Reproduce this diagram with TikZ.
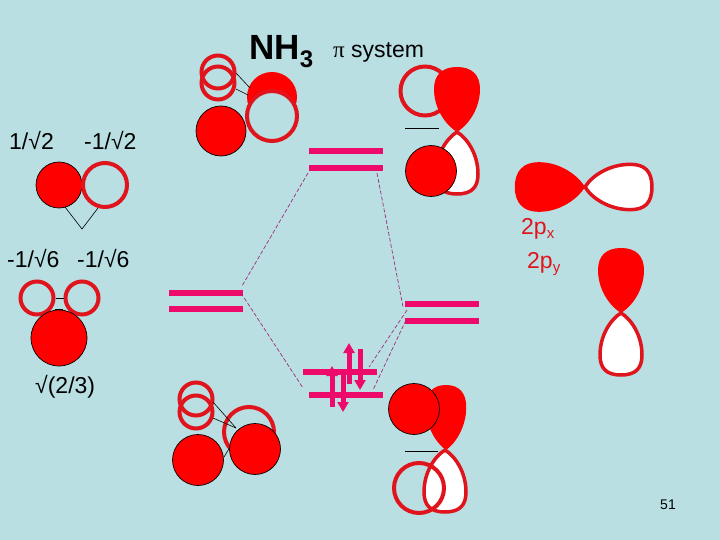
\documentclass[tikz,border=0pt]{standalone}
\usepackage{fontspec}
\setmainfont{Liberation Sans}
\newfontfamily\pifont{Liberation Serif}
\usetikzlibrary{arrows.meta}
\definecolor{slidebg}{HTML}{B9DFE3}
\definecolor{levelpink}{HTML}{EE0A6A}
\definecolor{lobered}{HTML}{E0141C}
\definecolor{linkpurple}{HTML}{A02C7C}
\newcommand{\lowsub}[2][4pt]{\raisebox{-#1}{\fontsize{15}{15}\selectfont #2}}
\tikzset{
  fullorb/.style={circle,draw=black,line width=0.7pt,fill=red,inner sep=0pt},
  openorb/.style={circle,draw=lobered,line width=4pt,inner sep=0pt},
  level/.style={rectangle,fill=levelpink,minimum width=74pt,minimum height=6pt,inner sep=0pt},
  label/.style={anchor=base west,inner sep=0pt,font=\fontsize{23}{23}\selectfont},
  pxlabel/.style={label,text=lobered},
  link/.style={line width=0.6pt,black},
  mixline/.style={line width=0.7pt,linkpurple,dash pattern=on 4pt off 2pt},
  spin/.style={line width=5pt,levelpink,-{Triangle[length=10pt,width=11pt]}},
  fulllobe/.pic={
    \fill[red] (0,0) .. controls (-10,-6) and (-23,-22) .. (-23,-43)
      .. controls (-23,-57) and (-15,-65) .. (0,-65)
      .. controls (15,-65) and (23,-57) .. (23,-43)
      .. controls (23,-22) and (10,-6) .. (0,0) -- cycle;
  },
  openlobe/.pic={
    \draw[lobered,line width=3.5pt,fill=white] (0,0) .. controls (-10,-6) and (-21,-22) .. (-21,-42)
      .. controls (-21,-55) and (-15,-62) .. (0,-62)
      .. controls (15,-62) and (21,-55) .. (21,-42)
      .. controls (21,-22) and (10,-6) .. (0,0) -- cycle;
  }
}
\begin{document}
\begin{tikzpicture}[x=1pt,y=-1pt]
  \fill[slidebg] (0,0) rectangle (720,540);
  \useasboundingbox (0,0) rectangle (720,540);

  % titles
  \node[label,font=\fontsize{35}{35}\selectfont\bfseries] (title) at (249,60) {NH\lowsub[8pt]{\fontsize{24}{24}\selectfont\bfseries 3}};
  \node[label] (pisys) at (333,58) {{\pifont π} system};
  \node[anchor=base east,inner sep=0pt,font=\fontsize{14}{14}\selectfont] (pagenum) at (676,509) {51};

  % coefficients
  \node[label] (ca) at (9,150) {1/√2};
  \node[label] (cb) at (84,150) {-1/√2};
  \node[label] (cc) at (7,267) {-1/√6};
  \node[label] (cd) at (77,267) {-1/√6};
  \node[label] (ce) at (35,393) {√(2/3)};
  \node[pxlabel] (lpx) at (521,235) {2p\lowsub{x}};
  \node[pxlabel] (lpy) at (527,268) {2p\lowsub{y}};

  % left group orbitals
  \coordinate (va) at (65,207);
  \coordinate (vb) at (82,229);
  \coordinate (vc) at (98,208);
  \draw[link] (va) -- (vb) -- (vc);
  \node[fullorb,minimum size=46pt] (sa) at (59,185) {};
  \node[openorb,minimum size=44pt] (sb) at (105,185) {};

  \node[openorb,minimum size=33pt] (ha) at (37,298) {};
  \node[openorb,minimum size=33pt] (hb) at (82,298) {};
  \draw[link] (ha) -- (hb);
  \node[fullorb,minimum size=56pt] (sc) at (59,338) {};
  \coordinate (na) at (55,309);
  \coordinate (nb) at (63,309);
  \draw[link] (na) -- (nb);

  % NH3 top
  \node[openorb,minimum size=33pt] (ta) at (218,72) {};
  \node[openorb,minimum size=33pt] (tb) at (218,83) {};
  \node[fullorb,minimum size=50pt] (tc) at (221,131) {};
  \node[fullorb,draw=none,minimum size=50pt] (td) at (272,97) {};
  \coordinate (la) at (236,73);
  \coordinate (lb) at (250,88);
  \coordinate (lc) at (236,89);
  \coordinate (ld) at (248,95);
  \draw[link] (la) -- (lb);
  \draw[link] (lc) -- (ld);
  \node[openorb,fill=slidebg,minimum size=50pt] (te) at (272,116) {};

  % NH3 bottom
  \node[openorb,minimum size=33pt] (ba) at (196,399) {};
  \node[openorb,minimum size=33pt] (bb) at (196,412) {};
  \node[fullorb,minimum size=51pt] (bc) at (198,460) {};
  \node[openorb,minimum size=50pt] (bd) at (249,432) {};
  \coordinate (le) at (213,402);
  \coordinate (lf) at (236,428);
  \coordinate (lg) at (213,418);
  \coordinate (lh) at (224,457);
  \coordinate (li) at (230,447);
  \draw[link] (le) -- (lf);
  \draw[link] (lg) -- (lf);
  \draw[link] (lh) -- (li);
  \node[fullorb,minimum size=51pt] (bf) at (255,449) {};

  % levels
  \node[level] (upa) at (346,151) {};
  \node[level] (upb) at (346,168) {};
  \node[level] (lfa) at (205.5,293) {};
  \node[level] (lfb) at (205.5,309) {};
  \node[level] (rta) at (442,304) {};
  \node[level] (rtb) at (442,321) {};
  \node[level] (loa) at (340,372) {};
  \node[level] (lob) at (346,395) {};

  % correlation lines
  \coordinate (ma) at (308,173);
  \coordinate (mb) at (242,286);
  \coordinate (mc) at (241,293);
  \coordinate (md) at (303,388);
  \coordinate (me) at (377,173);
  \coordinate (mf) at (403,307);
  \coordinate (mg) at (407,310);
  \coordinate (mh) at (369,367);
  \coordinate (mi) at (406,320);
  \coordinate (mj) at (373,390);
  \draw[mixline] (ma) -- (mb);
  \draw[mixline] (mc) -- (md);
  \draw[mixline] (me) -- (mf);
  \draw[mixline] (mg) -- (mh);
  \draw[mixline] (mi) -- (mj);

  % electrons
  \coordinate (ea) at (349,384);
  \coordinate (eb) at (349,343);
  \coordinate (ec) at (360,349);
  \coordinate (ed) at (360,390);
  \coordinate (ee) at (332,407);
  \coordinate (ef) at (332,366);
  \coordinate (eg) at (343,375);
  \coordinate (eh) at (343,412);
  \draw[spin] (ea) -- (eb);
  \draw[spin] (ec) -- (ed);
  \draw[spin] (ee) -- (ef);
  \draw[spin] (eg) -- (eh);

  % p orbitals on the right
  \node[openorb,minimum size=49pt] (pa) at (425,91) {};
  \pic at (457,132) {fulllobe};
  \pic[rotate=180] at (457,132) {openlobe};
  \coordinate (pl) at (405,128);
  \coordinate (pr) at (439,128);
  \draw[link] (pl) -- (pr);
  \node[fullorb,minimum size=51pt] (pb) at (431,171) {};

  \pic[rotate=90,scale=1.08] at (585,187) {fulllobe};
  \pic[rotate=-90,scale=1.08] at (585,187) {openlobe};

  \pic at (621,313) {fulllobe};
  \pic[rotate=180] at (621,313) {openlobe};

  \pic[xscale=0.88] at (446,450) {fulllobe};
  \pic[rotate=180] at (445,450) {openlobe};
  \coordinate (ql) at (405,451);
  \coordinate (qr) at (438,451);
  \draw[link] (ql) -- (qr);
  \node[fullorb,minimum size=51pt] (qb) at (414,409) {};
  \node[openorb,minimum size=50pt] (qa) at (419,488) {};
\end{tikzpicture}
\end{document}
